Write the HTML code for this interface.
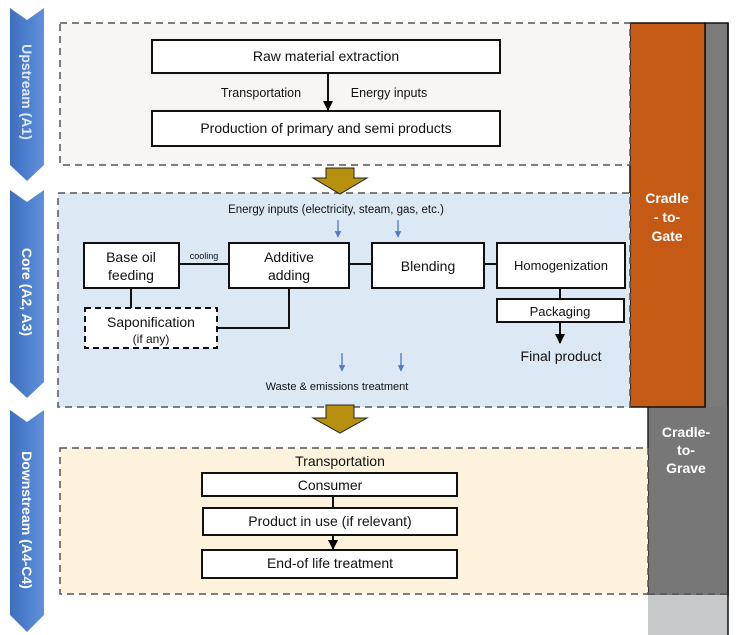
<!DOCTYPE html>
<html><head><meta charset="utf-8"><style>
body{margin:0;background:#fff}
svg{display:block;font-family:"Liberation Sans",sans-serif}
</style></head><body>
<svg width="742" height="635" viewBox="0 0 742 635" xmlns="http://www.w3.org/2000/svg">
<defs>
<marker id="ah" viewBox="0 0 10 10" refX="9" refY="5" markerWidth="5" markerHeight="5" orient="auto"><path d="M0,0L10,5L0,10z" fill="#000"/></marker>
<marker id="bh" viewBox="0 0 10 10" refX="9" refY="5" markerWidth="5" markerHeight="5" orient="auto"><path d="M0,0L10,5L0,10z" fill="#4a7cc9"/></marker>
<linearGradient id="cg" x1="0" x2="1"><stop offset="0" stop-color="#3e6fbf"/><stop offset="1" stop-color="#5f90dc"/></linearGradient>
</defs>
<!-- side bars -->
<rect x="705" y="23" width="23" height="572" fill="#7b7b7b" stroke="#111" stroke-width="1.5"/>
<rect x="648" y="407" width="80" height="188" fill="#777"/>
<line x1="648" y1="407" x2="648" y2="595" stroke="#222" stroke-width="1.5"/>
<rect x="648" y="595" width="80" height="40" fill="#c6c8ca"/>
<line x1="728" y1="23" x2="728" y2="635" stroke="#111" stroke-width="1.5"/>
<rect x="630" y="23" width="75" height="384" fill="#c45a14" stroke="#111" stroke-width="1.5"/>
<text x="667" y="203" fill="#fff" font-weight="bold" font-size="14" text-anchor="middle">Cradle</text>
<text x="667" y="222" fill="#fff" font-weight="bold" font-size="14" text-anchor="middle">- to-</text>
<text x="667" y="241" fill="#fff" font-weight="bold" font-size="14" text-anchor="middle">Gate</text>
<text x="686" y="437" fill="#fff" font-weight="bold" font-size="14" text-anchor="middle">Cradle-</text>
<text x="686" y="455" fill="#fff" font-weight="bold" font-size="14" text-anchor="middle">to-</text>
<text x="686" y="473" fill="#fff" font-weight="bold" font-size="14" text-anchor="middle">Grave</text>
<!-- chevrons -->
<path d="M10,8 L27,20 L44,8 L44,165 L27,181 L10,165 Z" fill="url(#cg)"/>
<path d="M10,190 L27,202 L44,190 L44,382 L27,398 L10,382 Z" fill="url(#cg)"/>
<path d="M10,410 L27,422 L44,410 L44,615 L27,632 L10,615 Z" fill="url(#cg)"/>
<text transform="translate(22,92) rotate(90)" fill="#dfe8f7" font-size="14" text-anchor="middle" font-weight="bold">Upstream  (A1)</text>
<text transform="translate(22,292) rotate(90)" fill="#fff" font-size="14" text-anchor="middle" font-weight="bold">Core  (A2, A3)</text>
<text transform="translate(22,520) rotate(90)" fill="#fff" font-size="14" text-anchor="middle" font-weight="bold">Downstream  (A4-C4)</text>
<!-- panels -->
<rect x="60" y="23" width="570" height="142" fill="#f7f6f4" stroke="#555" stroke-width="1.5" stroke-dasharray="7,5"/>
<rect x="58" y="193" width="572" height="214" fill="#dde8f5" stroke="#555" stroke-width="1.5" stroke-dasharray="7,5"/>
<rect x="60" y="448" width="588" height="146" fill="#fdf3dd" stroke="#555" stroke-width="1.5" stroke-dasharray="7,5"/>
<line x1="648" y1="594" x2="728" y2="594" stroke="#555" stroke-width="1.5" stroke-dasharray="7,5"/>
<!-- gold arrows -->
<path d="M326,168 L354,168 L354,178 L367,178 L340,194 L313,178 L326,178 Z" fill="#b8900f" stroke="#222" stroke-width="1"/>
<path d="M326,405 L354,405 L354,418 L367,418 L340,433 L313,418 L326,418 Z" fill="#b8900f" stroke="#222" stroke-width="1"/>
<g stroke="#111" stroke-width="2" fill="#fff">
<rect x="152" y="40" width="348" height="33"/>
<rect x="152" y="111" width="348" height="35"/>
<rect x="84" y="243" width="95" height="45"/>
<rect x="229" y="243" width="120" height="45"/>
<rect x="372" y="243" width="112" height="45"/>
<rect x="497" y="243" width="128" height="45"/>
<rect x="497" y="299" width="127" height="23"/>
<rect x="85" y="308" width="132" height="40" stroke-dasharray="6,4"/>
<rect x="202" y="473" width="255" height="23"/>
<rect x="203" y="508" width="254" height="27"/>
<rect x="202" y="550" width="255" height="28"/>
</g>
<g stroke="#111" stroke-width="2" fill="none">
<line x1="328" y1="73" x2="328" y2="110" marker-end="url(#ah)"/>
<line x1="179" y1="264" x2="229" y2="264"/>
<line x1="349" y1="264" x2="372" y2="264"/>
<line x1="484" y1="264" x2="497" y2="264"/>
<line x1="131" y1="288" x2="131" y2="308"/>
<polyline points="289,288 289,328 217,328"/>
<line x1="560" y1="288" x2="560" y2="299"/>
<line x1="560" y1="322" x2="560" y2="343" marker-end="url(#ah)"/>
<line x1="333" y1="496" x2="333" y2="508"/>
<line x1="333" y1="535" x2="333" y2="549" marker-end="url(#ah)"/>
</g>
<g stroke="#4a7cc9" stroke-width="1.3">
<line x1="338" y1="220" x2="338" y2="237" marker-end="url(#bh)"/>
<line x1="398" y1="220" x2="398" y2="237" marker-end="url(#bh)"/>
<line x1="342" y1="353" x2="342" y2="371" marker-end="url(#bh)"/>
<line x1="401" y1="353" x2="401" y2="371" marker-end="url(#bh)"/>
</g>
<g font-size="14" text-anchor="middle" fill="#111">
<text x="326" y="61">Raw material extraction</text>
<text x="326" y="133">Production of primary and semi products</text>
<text x="261" y="97" font-size="12.5">Transportation</text>
<text x="389" y="97" font-size="12.5">Energy inputs</text>
<text x="336" y="213" font-size="11.5">Energy inputs (electricity, steam, gas, etc.)</text>
<text x="131" y="262">Base oil</text>
<text x="131" y="280">feeding</text>
<text x="289" y="262">Additive</text>
<text x="289" y="280">adding</text>
<text x="204" y="259" font-size="9">cooling</text>
<text x="428" y="271">Blending</text>
<text x="561" y="270" font-size="13">Homogenization</text>
<text x="560" y="316" font-size="13">Packaging</text>
<text x="561" y="361">Final product</text>
<text x="151" y="327">Saponification</text>
<text x="151" y="343" font-size="12">(if any)</text>
<text x="337" y="390" font-size="11">Waste &amp; emissions treatment</text>
<text x="340" y="466">Transportation</text>
<text x="330" y="490">Consumer</text>
<text x="330" y="526">Product in use (if relevant)</text>
<text x="330" y="568">End-of life treatment</text>
</g>
</svg>
</body></html>
